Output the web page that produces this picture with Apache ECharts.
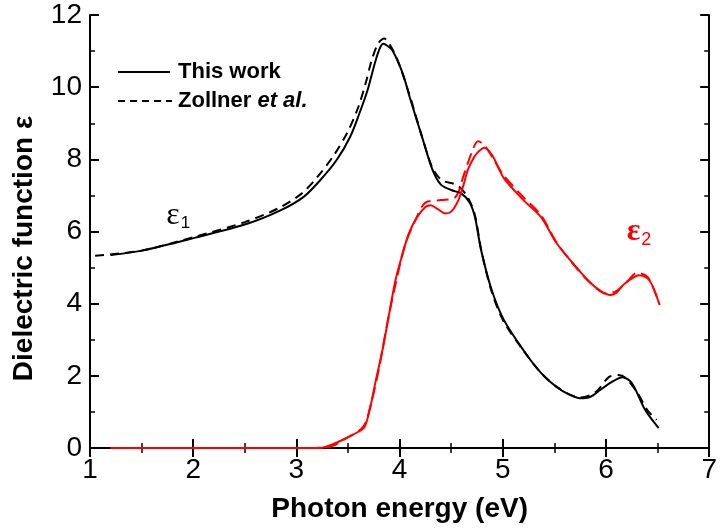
<!DOCTYPE html>
<html>
<head>
<meta charset="utf-8">
<script src="https://cdn.jsdelivr.net/npm/echarts@6/dist/echarts.min.js"></script>
<style>html,body{margin:0;padding:0;background:#fff}#c{width:720px;height:530px}</style>
</head>
<body>
<div id="c"></div>
<script>
// ε1, this work (solid black)
var e1WorkE = [1.2,1.5,2.02,2.53,2.85,3.07,3.23,3.39,3.52,3.61,3.69,3.75,3.8,3.84,3.88,3.93,4.03,4.1,4.22,4.32,4.4,4.5,4.6,4.68,4.73,4.79,4.89,5.01,5.2,5.37,5.52,5.65,5.75,5.85,5.94,6.05,6.16,6.25,6.38,6.51];
var e1WorkV = [5.35,5.47,5.83,6.22,6.59,6.96,7.42,7.98,8.62,9.27,9.92,10.56,11.02,11.2,11.15,11.02,10.38,9.7,8.6,7.7,7.3,7.15,7.05,6.8,6.4,5.48,4.4,3.55,2.71,2.08,1.69,1.47,1.38,1.42,1.6,1.82,1.96,1.8,1.05,0.55];
// ε1, Zollner et al. (dashed black)
var e1ZolE = [1.05,1.5,2.02,2.5,2.83,3.05,3.2,3.36,3.5,3.6,3.67,3.73,3.79,3.85,3.9,3.98,4.1,4.22,4.32,4.41,4.56,4.66,4.73,4.79,4.89,5.01,5.2,5.37,5.52,5.65,5.75,5.9,6.03,6.12,6.19,6.3,6.4,6.49];
var e1ZolV = [5.33,5.47,5.86,6.26,6.65,7.05,7.5,8.1,8.78,9.45,10.1,10.75,11.2,11.35,11.2,10.75,9.75,8.6,7.75,7.42,7.28,6.95,6.45,5.5,4.35,3.5,2.7,2.08,1.7,1.48,1.4,1.55,1.97,2.02,1.94,1.55,1.05,0.78];
// ε2, this work (solid red)
var e2WorkE = [1.2,2.0,3.0,3.25,3.35,3.48,3.6,3.66,3.71,3.77,3.84,3.9,3.96,4.03,4.09,4.17,4.25,4.3,4.37,4.44,4.5,4.57,4.62,4.66,4.72,4.76,4.82,4.9,5.01,5.2,5.37,5.52,5.68,5.84,5.95,6.04,6.1,6.16,6.25,6.32,6.42,6.52];
var e2WorkV = [0,0,0,0.01,0.1,0.27,0.45,0.58,1.05,1.88,2.8,3.74,4.65,5.4,5.95,6.4,6.68,6.73,6.62,6.5,6.55,6.87,7.3,7.7,8.05,8.2,8.32,8.1,7.48,6.87,6.4,5.68,5.12,4.6,4.35,4.24,4.3,4.5,4.7,4.79,4.65,3.96];
// ε2, Zollner et al. (dashed red)
var e2ZolE = [1.2,3.0,3.3,3.5,3.65,3.72,3.8,3.87,3.95,4.05,4.15,4.25,4.4,4.54,4.62,4.7,4.76,4.82,4.9,5.01,5.2,5.37,5.52,5.68,5.84,6.0,6.1,6.2,6.3,6.4,6.49];
var e2ZolV = [0,0,0.02,0.3,0.6,1.2,2.2,3.3,4.4,5.6,6.3,6.8,6.87,6.95,7.55,8.2,8.5,8.4,8.05,7.55,6.95,6.45,5.7,5.1,4.6,4.28,4.35,4.6,4.85,4.75,4.2];

var xTicks = {min: 1, max: 7, interval: 1};
var yTicks = {min: 0, max: 12, interval: 2};
var legendNames = ['This work', 'Zollner'];
var legendItalic = 'et al.';

function zip(a, b) { return a.map(function (x, i) { return [x, b[i]]; }); }

var chart = echarts.init(document.getElementById('c'));
var axisCommon = {
  axisLine: {show: true, lineStyle: {color: '#000', width: 2}},
  axisTick: {show: true, inside: true, length: 9, lineStyle: {color: '#000', width: 2}},
  minorTick: {show: true, splitNumber: 2, length: 5, lineStyle: {color: '#000', width: 1.5}},
  splitLine: {show: false},
  minorSplitLine: {show: false}
};
var SANS = 'Liberation Sans, Arial, sans-serif';
var labelFont = {color: '#000', fontSize: 28, fontFamily: SANS};
var nameFont = {color: '#000', fontSize: 28, fontWeight: 'bold', fontFamily: SANS};

chart.setOption({
  animation: false,
  backgroundColor: '#fff',
  grid: {left: 90, right: 2, top: 15, bottom: 82, containLabel: false},
  xAxis: [
    Object.assign({type: 'value', min: xTicks.min, max: xTicks.max, interval: xTicks.interval, position: 'bottom',
      name: 'Photon energy (eV)', nameLocation: 'middle', nameGap: 47, nameTextStyle: nameFont,
      axisLabel: Object.assign({margin: 8}, labelFont)}, axisCommon),
    Object.assign({type: 'value', min: xTicks.min, max: xTicks.max, interval: xTicks.interval, position: 'top',
      axisLabel: {show: false}}, axisCommon)
  ],
  yAxis: [
    Object.assign({type: 'value', min: yTicks.min, max: yTicks.max, interval: yTicks.interval, position: 'left',
      name: 'Dielectric function ε', nameLocation: 'middle', nameGap: 52,
      nameTextStyle: Object.assign({padding: [0, 34, 0, 0]}, nameFont),
      axisLabel: Object.assign({margin: 8}, labelFont)}, axisCommon),
    Object.assign({type: 'value', min: yTicks.min, max: yTicks.max, interval: yTicks.interval, position: 'right',
      axisLabel: {show: false}}, axisCommon)
  ],
  series: [
    {name: 'This work', type: 'line', data: zip(e1WorkE, e1WorkV), smooth: 0.3, symbol: 'none',
      lineStyle: {color: '#000', width: 2}, z: 3},
    {name: 'Zollner et al.', type: 'line', data: zip(e1ZolE, e1ZolV), smooth: 0.3, symbol: 'none',
      lineStyle: {color: '#000', width: 2, type: [9, 6]}, z: 2},
    {name: 'ε2 This work', type: 'line', data: zip(e2WorkE, e2WorkV), smooth: 0.3, symbol: 'none',
      lineStyle: {color: '#ff0000', width: 2}, z: 3},
    {name: 'ε2 Zollner et al.', type: 'line', data: zip(e2ZolE, e2ZolV), smooth: 0.3, symbol: 'none',
      lineStyle: {color: '#ff0000', width: 2, type: [12, 6]}, z: 2}
  ]
});

var p1 = chart.convertToPixel({xAxisIndex: 0, yAxisIndex: 0}, [1.74, 6.45]);
var p2 = chart.convertToPixel({xAxisIndex: 0, yAxisIndex: 0}, [6.2, 5.98]);
var legFont = {fontSize: 22, fontWeight: 'bold', fontFamily: SANS, fill: '#000'};
chart.setOption({
  graphic: [
    // legend
    {type: 'line', shape: {x1: 118, y1: 72, x2: 170, y2: 72}, style: {stroke: '#000', lineWidth: 2}},
    {type: 'text', x: 178, y: 72, style: Object.assign({text: legendNames[0], verticalAlign: 'middle'}, legFont)},
    {type: 'line', shape: {x1: 118, y1: 101, x2: 172, y2: 101}, style: {stroke: '#000', lineWidth: 2, lineDash: [7, 5]}},
    {type: 'text', x: 178, y: 101, style: {
      text: '{n|' + legendNames[1] + ' }{i|' + legendItalic + '}', verticalAlign: 'middle',
      rich: {n: legFont, i: Object.assign({fontStyle: 'italic'}, legFont)}}},
    // curve labels
    {type: 'text', x: p1[0], y: p1[1], style: {
      text: '{e|ε}{s|1}', verticalAlign: 'middle', fill: '#000',
      rich: {e: {fontSize: 32, fontFamily: 'Liberation Serif, serif', fill: '#000'},
             s: {fontSize: 17, fontFamily: SANS, fill: '#000', padding: [16, 0, 0, 1]}}}},
    {type: 'text', x: p2[0], y: p2[1], style: {
      text: '{e|ε}{s|2}', verticalAlign: 'middle', fill: '#ff0000',
      rich: {e: {fontSize: 32, fontFamily: 'Liberation Serif, serif', fontWeight: 'bold', fill: '#ff0000'},
             s: {fontSize: 18, fontFamily: SANS, fill: '#ff0000', padding: [16, 0, 0, 1]}}}}
  ]
});
</script>
</body>
</html>
